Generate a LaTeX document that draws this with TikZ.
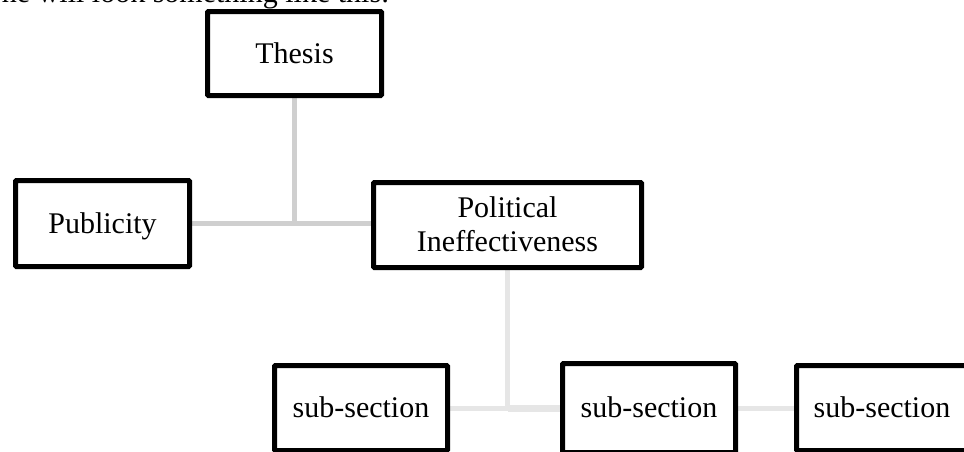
\documentclass[tikz,border=0pt]{standalone}
\usepackage{fontspec}
\setmainfont{Liberation Serif}
\usetikzlibrary{positioning,backgrounds}
\definecolor{linkgray}{HTML}{CFCFCF}
\definecolor{linklight}{HTML}{E6E6E6}

\begin{document}
\begin{tikzpicture}[x=1pt,y=-1pt,
  box/.style={draw=black,line width=5pt,rounded corners=1pt,fill=white,
    font=\fontsize{30}{34}\selectfont,align=center,inner sep=0pt,
    text height=20pt,text depth=1pt},
  linkup/.style={draw=linkgray,line width=5pt},
  linkdown/.style={draw=linklight,line width=5pt}]
\useasboundingbox (0,0) rectangle (964,451);
\clip (0,0) rectangle (964,451);

\node[anchor=base east,font=\fontsize{30}{34}\selectfont] (lead) at (393,2.5)
{he will look something like this:};

\node[box,minimum width=174pt,minimum height=84pt] (thesis) at (294.5,53.5) {Thesis};
\node[box,minimum width=174pt,minimum height=86pt] (publicity) at (102.5,223.5) {Publicity};
\node[box,minimum width=268pt,minimum height=85pt,text height=54pt] (political) at (507.5,225)
{Political\\Ineffectiveness};
\node[box,minimum width=173pt,minimum height=85pt] (subA) at (361,408) {sub-section};
\node[box,minimum width=173pt,minimum height=89pt] (subB) at (649,408) {sub-section};
\node[box,minimum width=171pt,minimum height=85pt] (subC) at (882,408) {sub-section};

\begin{scope}[on background layer]
\coordinate (j1) at (thesis.south |- publicity.east);
\coordinate (j2) at (political.south |- subA.east);
\draw[linkup] (thesis.south) -- (j1);
\draw[linkup] (publicity.east) -- (j1) -- (j1 -| political.west);
\draw[linkdown] (political.south) -- (j2);
\draw[linkdown] (subA.east) -- (j2);
\draw[linkdown,line width=7pt] (j2) -- (subB.west);
\draw[linkdown] (subB.east) -- (subC.west);
\end{scope}
\end{tikzpicture}
\end{document}
